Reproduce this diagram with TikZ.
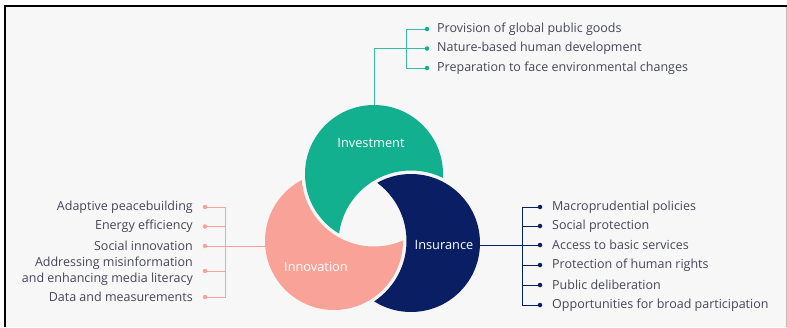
\documentclass[tikz,border=0pt]{standalone}
\usepackage{fontspec}
\setmainfont{Open Sans}
\usetikzlibrary{calc, positioning}
\definecolor{invgreen}{RGB}{18,176,143}
\definecolor{innpink}{RGB}{248,162,152}
\definecolor{insnavy}{RGB}{10,31,99}
\definecolor{txtgrey}{RGB}{70,70,88}
\definecolor{bggrey}{RGB}{247,247,247}
\tikzset{
  item/.style={font=\fontsize{12.5}{16}\selectfont, text=txtgrey, inner sep=0pt},
  dotmark/.style={circle, fill, inner sep=0pt, minimum size=4.5pt},
  ringlabel/.style={font=\fontsize{12.8}{14}\selectfont, text=white, inner sep=0pt},
  branch/.style={line width=1pt}
}

\begin{document}
\begin{tikzpicture}[x=1pt,y=-1pt]
\def\R{69}
\def\gap{3.5}
\pgfmathsetmacro{\Rg}{\R+\gap}
\useasboundingbox (0,0) rectangle (787,327);

% frame
\fill[bggrey] (5,6) rectangle (786,327);
\draw[gray!55, line width=0.8pt] (786,6) -- (786,327);
\draw[line width=2pt] (5,327) -- (5,6) -- (786.5,6);

\coordinate (G) at (374,174);
\coordinate (P) at (334,241);
\coordinate (N) at (411,243);
\coordinate (Gtop) at ($(G)+(0,-\R)$);

% Investment branches
\coordinate (gbar) at (406,48.5);
\draw[branch, invgreen!85] (Gtop) |- (gbar);
\foreach \y/\t [count=\i] in {29/Provision of global public goods,
    48.5/Nature-based human development,
    68/Preparation to face environmental changes}{
  \node[dotmark, invgreen] (g\i) at (427,\y) {};
  \node[item, anchor=west] (gt\i) at (437,\y) {\t};
}
\draw[branch, invgreen!85] (g1) -- (g1 -| gbar) -- (g3 -| gbar) -- (g3);
\draw[branch, invgreen!85] (gbar) -- (g2);

% Innovation branches
\coordinate (pbar) at (225,246);
\foreach \y/\t [count=\i] in {207/Adaptive peacebuilding,
    226.5/Energy efficiency,
    246/Social innovation,
    271/{Addressing misinformation\\and enhancing media literacy},
    297/Data and measurements}{
  \node[dotmark, innpink] (p\i) at (205,\y) {};
  \node[item, anchor=east, align=right] (pt\i) at (193,\y) {\t};
}
\draw[branch, innpink] (p1) -- (p1 -| pbar) -- (p5 -| pbar) -- (p5);
\draw[branch, innpink] (p2) -- (p2 -| pbar);
\draw[branch, innpink] (p4) -- (p4 -| pbar);
\draw[branch, innpink] (p3) -- (p3 -| P);

% Insurance branches
\coordinate (nbar) at (522,245);
\foreach \y/\t [count=\i] in {207/Macroprudential policies,
    226/Social protection,
    245/Access to basic services,
    265/Protection of human rights,
    285/Public deliberation,
    305/Opportunities for broad participation}{
  \node[dotmark, insnavy] (n\i) at (540,\y) {};
  \node[item, anchor=west] (nt\i) at (552,\y) {\t};
}
\draw[branch, insnavy] (n1) -- (n1 -| nbar) -- (n6 -| nbar) -- (n6);
\foreach \i in {2,4,5}{
  \draw[branch, insnavy] (n\i) -- (n\i -| nbar);
}
\draw[branch, insnavy] (n3 -| N) -- (n3);

% rings, each cut by the next one
\begin{scope}[even odd rule]
  \clip (0,0) rectangle (787,327) (N) circle[radius=\Rg pt];
  \fill[invgreen] (G) circle[radius=\R pt];
\end{scope}
\begin{scope}[even odd rule]
  \clip (0,0) rectangle (787,327) (G) circle[radius=\Rg pt];
  \fill[innpink] (P) circle[radius=\R pt];
\end{scope}
\begin{scope}[even odd rule]
  \clip (0,0) rectangle (787,327) (P) circle[radius=\Rg pt];
  \fill[insnavy] (N) circle[radius=\R pt];
\end{scope}
% central hole is left in the background colour
\begin{scope}
  \clip (G) circle[radius=\R pt];
  \clip (P) circle[radius=\R pt];
  \fill[bggrey] (N) circle[radius=\R pt];
\end{scope}

\node[ringlabel] (inv) at (371,143) {Investment};
\node[ringlabel] (inn) at (316,267) {Innovation};
\node[ringlabel] (ins) at (444,245) {Insurance};
\end{tikzpicture}
\end{document}
